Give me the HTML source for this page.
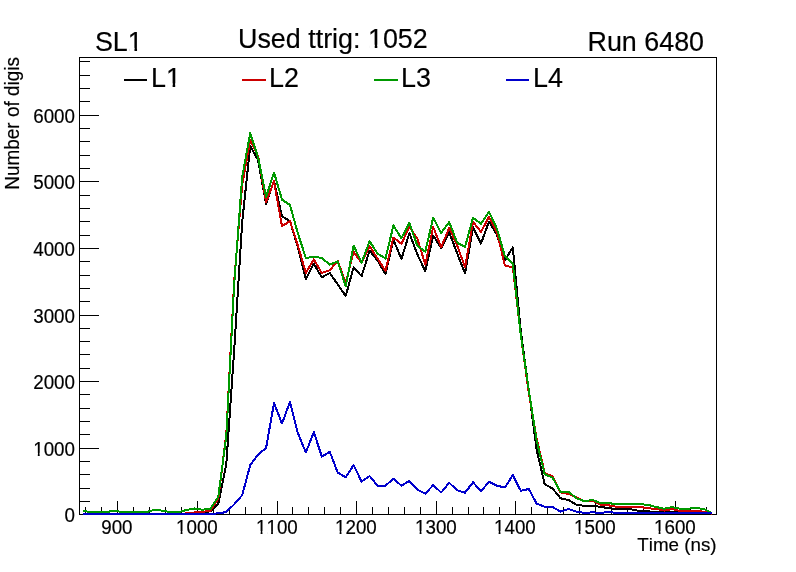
<!DOCTYPE html>
<html><head><meta charset="utf-8"><title>SL1</title>
<style>
html,body{margin:0;padding:0;background:#fff;}
body{width:796px;height:572px;overflow:hidden;font-family:"Liberation Sans",sans-serif;}
svg{display:block;position:absolute;left:0;top:0;will-change:transform;}
text{font-family:"Liberation Sans",sans-serif;fill:#000;font-kerning:none;stroke:#000;stroke-width:0.18px;}
</style></head><body>
<svg width="796" height="572" viewBox="0 0 796 572">
<rect x="0" y="0" width="796" height="572" fill="#ffffff"/>

<g stroke="#000" stroke-width="1" shape-rendering="crispEdges" fill="none">
<rect x="79.5" y="57.5" width="637" height="457"/>
<line x1="79.5" x2="99.0" y1="514.5" y2="514.5"/>
<line x1="79.5" x2="90.0" y1="501.5" y2="501.5"/>
<line x1="79.5" x2="90.0" y1="488.5" y2="488.5"/>
<line x1="79.5" x2="90.0" y1="474.5" y2="474.5"/>
<line x1="79.5" x2="90.0" y1="461.5" y2="461.5"/>
<line x1="79.5" x2="99.0" y1="448.5" y2="448.5"/>
<line x1="79.5" x2="90.0" y1="434.5" y2="434.5"/>
<line x1="79.5" x2="90.0" y1="421.5" y2="421.5"/>
<line x1="79.5" x2="90.0" y1="408.5" y2="408.5"/>
<line x1="79.5" x2="90.0" y1="394.5" y2="394.5"/>
<line x1="79.5" x2="99.0" y1="381.5" y2="381.5"/>
<line x1="79.5" x2="90.0" y1="368.5" y2="368.5"/>
<line x1="79.5" x2="90.0" y1="354.5" y2="354.5"/>
<line x1="79.5" x2="90.0" y1="341.5" y2="341.5"/>
<line x1="79.5" x2="90.0" y1="328.5" y2="328.5"/>
<line x1="79.5" x2="99.0" y1="315.5" y2="315.5"/>
<line x1="79.5" x2="90.0" y1="301.5" y2="301.5"/>
<line x1="79.5" x2="90.0" y1="288.5" y2="288.5"/>
<line x1="79.5" x2="90.0" y1="275.5" y2="275.5"/>
<line x1="79.5" x2="90.0" y1="261.5" y2="261.5"/>
<line x1="79.5" x2="99.0" y1="248.5" y2="248.5"/>
<line x1="79.5" x2="90.0" y1="235.5" y2="235.5"/>
<line x1="79.5" x2="90.0" y1="221.5" y2="221.5"/>
<line x1="79.5" x2="90.0" y1="208.5" y2="208.5"/>
<line x1="79.5" x2="90.0" y1="195.5" y2="195.5"/>
<line x1="79.5" x2="99.0" y1="181.5" y2="181.5"/>
<line x1="79.5" x2="90.0" y1="168.5" y2="168.5"/>
<line x1="79.5" x2="90.0" y1="155.5" y2="155.5"/>
<line x1="79.5" x2="90.0" y1="141.5" y2="141.5"/>
<line x1="79.5" x2="90.0" y1="128.5" y2="128.5"/>
<line x1="79.5" x2="99.0" y1="115.5" y2="115.5"/>
<line x1="79.5" x2="90.0" y1="101.5" y2="101.5"/>
<line x1="79.5" x2="90.0" y1="88.5" y2="88.5"/>
<line x1="79.5" x2="90.0" y1="75.5" y2="75.5"/>
<line x1="79.5" x2="90.0" y1="61.5" y2="61.5"/>
<line x1="85.5" x2="85.5" y1="514.5" y2="507.0"/>
<line x1="101.5" x2="101.5" y1="514.5" y2="507.0"/>
<line x1="117.5" x2="117.5" y1="514.5" y2="501.0"/>
<line x1="133.5" x2="133.5" y1="514.5" y2="507.0"/>
<line x1="149.5" x2="149.5" y1="514.5" y2="507.0"/>
<line x1="165.5" x2="165.5" y1="514.5" y2="507.0"/>
<line x1="181.5" x2="181.5" y1="514.5" y2="507.0"/>
<line x1="197.5" x2="197.5" y1="514.5" y2="501.0"/>
<line x1="213.5" x2="213.5" y1="514.5" y2="507.0"/>
<line x1="229.5" x2="229.5" y1="514.5" y2="507.0"/>
<line x1="245.5" x2="245.5" y1="514.5" y2="507.0"/>
<line x1="261.5" x2="261.5" y1="514.5" y2="507.0"/>
<line x1="277.5" x2="277.5" y1="514.5" y2="501.0"/>
<line x1="292.5" x2="292.5" y1="514.5" y2="507.0"/>
<line x1="308.5" x2="308.5" y1="514.5" y2="507.0"/>
<line x1="324.5" x2="324.5" y1="514.5" y2="507.0"/>
<line x1="340.5" x2="340.5" y1="514.5" y2="507.0"/>
<line x1="356.5" x2="356.5" y1="514.5" y2="501.0"/>
<line x1="372.5" x2="372.5" y1="514.5" y2="507.0"/>
<line x1="388.5" x2="388.5" y1="514.5" y2="507.0"/>
<line x1="404.5" x2="404.5" y1="514.5" y2="507.0"/>
<line x1="420.5" x2="420.5" y1="514.5" y2="507.0"/>
<line x1="436.5" x2="436.5" y1="514.5" y2="501.0"/>
<line x1="452.5" x2="452.5" y1="514.5" y2="507.0"/>
<line x1="468.5" x2="468.5" y1="514.5" y2="507.0"/>
<line x1="483.5" x2="483.5" y1="514.5" y2="507.0"/>
<line x1="499.5" x2="499.5" y1="514.5" y2="507.0"/>
<line x1="515.5" x2="515.5" y1="514.5" y2="501.0"/>
<line x1="531.5" x2="531.5" y1="514.5" y2="507.0"/>
<line x1="547.5" x2="547.5" y1="514.5" y2="507.0"/>
<line x1="563.5" x2="563.5" y1="514.5" y2="507.0"/>
<line x1="579.5" x2="579.5" y1="514.5" y2="507.0"/>
<line x1="595.5" x2="595.5" y1="514.5" y2="501.0"/>
<line x1="611.5" x2="611.5" y1="514.5" y2="507.0"/>
<line x1="627.5" x2="627.5" y1="514.5" y2="507.0"/>
<line x1="643.5" x2="643.5" y1="514.5" y2="507.0"/>
<line x1="659.5" x2="659.5" y1="514.5" y2="507.0"/>
<line x1="675.5" x2="675.5" y1="514.5" y2="501.0"/>
<line x1="690.5" x2="690.5" y1="514.5" y2="507.0"/>
<line x1="706.5" x2="706.5" y1="514.5" y2="507.0"/>
</g>
<clipPath id="c"><rect x="79" y="57" width="638" height="458"/></clipPath>
<g clip-path="url(#c)">
<polyline points="83.0,514.0 91.0,514.0 98.9,514.0 106.9,514.0 114.8,514.0 122.8,514.0 130.8,514.0 138.7,514.0 146.7,514.0 154.6,514.0 162.6,514.0 170.6,514.0 178.5,514.0 186.5,514.0 194.4,514.0 202.4,512.7 210.4,511.3 218.3,503.6 226.3,464.0 234.2,350.0 242.2,222.0 250.2,146.0 258.1,160.2 266.1,204.1 274.0,181.0 282.0,216.4 290.0,221.0 297.9,247.5 305.9,279.1 313.8,263.7 321.8,277.4 329.8,273.0 337.7,284.4 345.7,295.9 353.6,267.4 361.6,276.2 369.6,250.7 377.5,260.4 385.5,274.1 393.4,239.6 401.4,259.0 409.4,233.2 417.3,254.2 425.3,271.4 433.2,235.6 441.2,248.0 449.2,232.2 457.1,253.2 465.1,273.5 473.0,227.2 481.0,243.6 489.0,221.6 496.9,234.8 504.9,260.3 512.8,247.4 520.8,331.0 528.8,390.5 536.7,450.0 544.7,484.2 552.6,488.6 560.6,498.3 568.6,500.0 576.5,504.8 584.5,505.8 592.4,505.8 600.4,506.8 608.4,508.2 616.3,509.2 624.3,509.3 632.2,509.5 640.2,511.2 648.2,511.4 656.1,511.9 664.1,512.3 672.0,511.9 680.0,512.3 688.0,512.3 695.9,512.3 703.9,512.6 711.8,513.6" fill="none" stroke="#000000" stroke-width="2" stroke-linejoin="round" shape-rendering="crispEdges"/>
<polyline points="83.0,514.0 91.0,514.0 98.9,514.0 106.9,514.0 114.8,514.0 122.8,514.0 130.8,514.0 138.7,514.0 146.7,514.0 154.6,514.0 162.6,514.0 170.6,514.0 178.5,514.0 186.5,513.4 194.4,512.4 202.4,512.0 210.4,510.6 218.3,498.7 226.3,434.0 234.2,281.0 242.2,185.0 250.2,140.0 258.1,156.2 266.1,202.4 274.0,181.3 282.0,226.3 290.0,221.0 297.9,245.7 305.9,273.0 313.8,259.4 321.8,273.0 329.8,270.3 337.7,260.7 345.7,283.0 353.6,251.7 361.6,263.0 369.6,246.0 377.5,258.6 385.5,270.9 393.4,237.6 401.4,243.7 409.4,227.1 417.3,238.4 425.3,264.8 433.2,227.0 441.2,247.1 449.2,227.9 457.1,245.3 465.1,267.3 473.0,221.8 481.0,232.0 489.0,216.8 496.9,232.1 504.9,265.5 512.8,267.3 520.8,335.0 528.8,393.0 536.7,439.0 544.7,472.8 552.6,476.6 560.6,492.5 568.6,493.9 576.5,497.4 584.5,501.3 592.4,500.5 600.4,504.6 608.4,505.3 616.3,506.7 624.3,506.8 632.2,506.8 640.2,507.0 648.2,508.2 656.1,509.0 664.1,510.6 672.0,509.0 680.0,511.0 688.0,511.0 695.9,510.6 703.9,511.9 711.8,513.6" fill="none" stroke="#cc0000" stroke-width="2" stroke-linejoin="round" shape-rendering="crispEdges"/>
<polyline points="83.0,510.7 91.0,512.4 98.9,512.4 106.9,512.0 114.8,510.5 122.8,512.4 130.8,512.4 138.7,512.4 146.7,512.0 154.6,509.7 162.6,510.7 170.6,512.2 178.5,512.2 186.5,509.9 194.4,508.5 202.4,509.7 210.4,508.8 218.3,496.6 226.3,436.0 234.2,284.0 242.2,177.0 250.2,133.3 258.1,157.5 266.1,197.0 274.0,172.5 282.0,199.7 290.0,205.0 297.9,233.4 305.9,258.0 313.8,256.6 321.8,258.0 329.8,264.7 337.7,261.2 345.7,286.2 353.6,245.7 361.6,262.5 369.6,241.3 377.5,253.4 385.5,258.6 393.4,225.5 401.4,238.4 409.4,222.9 417.3,245.6 425.3,251.6 433.2,217.6 441.2,233.0 449.2,221.9 457.1,242.7 465.1,246.7 473.0,217.7 481.0,223.9 489.0,211.9 496.9,228.6 504.9,256.2 512.8,263.8 520.8,335.0 528.8,390.0 536.7,441.0 544.7,474.2 552.6,477.7 560.6,492.1 568.6,491.8 576.5,498.3 584.5,501.3 592.4,500.0 600.4,503.0 608.4,503.0 616.3,504.3 624.3,504.3 632.2,504.3 640.2,504.1 648.2,504.9 656.1,507.0 664.1,508.7 672.0,507.0 680.0,508.7 688.0,508.7 695.9,507.9 703.9,509.0 711.8,513.1" fill="none" stroke="#009900" stroke-width="2" stroke-linejoin="round" shape-rendering="crispEdges"/>
<polyline points="83.0,514.0 91.0,514.0 98.9,514.0 106.9,514.0 114.8,514.0 122.8,514.0 130.8,514.0 138.7,514.0 146.7,514.0 154.6,514.0 162.6,514.0 170.6,514.0 178.5,514.0 186.5,514.0 194.4,514.0 202.4,514.0 210.4,513.8 218.3,513.4 226.3,512.0 234.2,504.3 242.2,495.2 250.2,465.2 258.1,454.7 266.1,447.9 274.0,403.0 282.0,423.6 290.0,401.8 297.9,433.2 305.9,452.5 313.8,432.0 321.8,456.6 329.8,451.8 337.7,472.5 345.7,477.4 353.6,465.1 361.6,481.6 369.6,476.0 377.5,485.7 385.5,485.7 393.4,478.6 401.4,485.7 409.4,480.9 417.3,489.7 425.3,493.6 433.2,485.1 441.2,492.5 449.2,482.8 457.1,490.2 465.1,492.7 473.0,482.2 481.0,491.5 489.0,481.6 496.9,485.7 504.9,487.5 512.8,475.2 520.8,490.8 528.8,489.0 536.7,503.7 544.7,506.8 552.6,507.0 560.6,511.6 568.6,509.0 576.5,511.7 584.5,512.9 592.4,512.3 600.4,512.9 608.4,511.9 616.3,513.0 624.3,513.3 632.2,513.3 640.2,513.3 648.2,513.3 656.1,513.3 664.1,513.3 672.0,513.3 680.0,513.3 688.0,513.3 695.9,513.3 703.9,513.3 711.8,513.3" fill="none" stroke="#0000cc" stroke-width="2" stroke-linejoin="round" shape-rendering="crispEdges"/>
</g>
<g transform="translate(75.00,521.50) scale(1.000,1.070)"><text x="-10.46" y="0" font-size="18.8">0</text></g>
<g transform="translate(75.00,455.50) scale(1.000,1.070)"><text x="-41.82" y="0" font-size="18.8">1000</text><rect x="-40.99" y="-2.50" width="3.80" height="3.30" fill="#fff"/><rect x="-35.33" y="-2.50" width="3.65" height="3.30" fill="#fff"/></g>
<g transform="translate(75.00,388.50) scale(1.000,1.070)"><text x="-41.82" y="0" font-size="18.8">2000</text></g>
<g transform="translate(75.00,322.50) scale(1.000,1.070)"><text x="-41.82" y="0" font-size="18.8">3000</text></g>
<g transform="translate(75.00,255.50) scale(1.000,1.070)"><text x="-41.82" y="0" font-size="18.8">4000</text></g>
<g transform="translate(75.00,188.50) scale(1.000,1.070)"><text x="-41.82" y="0" font-size="18.8">5000</text></g>
<g transform="translate(75.00,122.50) scale(1.000,1.070)"><text x="-41.82" y="0" font-size="18.8">6000</text></g>
<g transform="translate(116.90,533.60) scale(1.000,1.070)"><text x="-15.68" y="0" font-size="18.8">900</text></g>
<g transform="translate(196.90,533.60) scale(1.000,1.070)"><text x="-20.91" y="0" font-size="18.8">1000</text><rect x="-20.08" y="-2.50" width="3.80" height="3.30" fill="#fff"/><rect x="-14.42" y="-2.50" width="3.65" height="3.30" fill="#fff"/></g>
<g transform="translate(276.90,533.60) scale(1.000,1.070)"><text x="-20.91" y="0" font-size="18.8">1100</text><rect x="-20.08" y="-2.50" width="3.80" height="3.30" fill="#fff"/><rect x="-14.42" y="-2.50" width="3.65" height="3.30" fill="#fff"/><rect x="-9.62" y="-2.50" width="3.80" height="3.30" fill="#fff"/><rect x="-3.97" y="-2.50" width="3.65" height="3.30" fill="#fff"/></g>
<g transform="translate(355.90,533.60) scale(1.000,1.070)"><text x="-20.91" y="0" font-size="18.8">1200</text><rect x="-20.08" y="-2.50" width="3.80" height="3.30" fill="#fff"/><rect x="-14.42" y="-2.50" width="3.65" height="3.30" fill="#fff"/></g>
<g transform="translate(435.90,533.60) scale(1.000,1.070)"><text x="-20.91" y="0" font-size="18.8">1300</text><rect x="-20.08" y="-2.50" width="3.80" height="3.30" fill="#fff"/><rect x="-14.42" y="-2.50" width="3.65" height="3.30" fill="#fff"/></g>
<g transform="translate(514.90,533.60) scale(1.000,1.070)"><text x="-20.91" y="0" font-size="18.8">1400</text><rect x="-20.08" y="-2.50" width="3.80" height="3.30" fill="#fff"/><rect x="-14.42" y="-2.50" width="3.65" height="3.30" fill="#fff"/></g>
<g transform="translate(594.90,533.60) scale(1.000,1.070)"><text x="-20.91" y="0" font-size="18.8">1500</text><rect x="-20.08" y="-2.50" width="3.80" height="3.30" fill="#fff"/><rect x="-14.42" y="-2.50" width="3.65" height="3.30" fill="#fff"/></g>
<g transform="translate(674.90,533.60) scale(1.000,1.070)"><text x="-20.91" y="0" font-size="18.8">1600</text><rect x="-20.08" y="-2.50" width="3.80" height="3.30" fill="#fff"/><rect x="-14.42" y="-2.50" width="3.65" height="3.30" fill="#fff"/></g>
<g transform="translate(94.90,51.20) scale(1.000,1.055)"><text x="0.00" y="0" font-size="26.9">SL1</text><rect x="34.35" y="-3.11" width="5.22" height="3.91" fill="#fff"/><rect x="42.14" y="-3.11" width="5.01" height="3.91" fill="#fff"/></g>
<g transform="translate(238.00,48.00) scale(1.000,1.055)"><text x="0.00" y="0" font-size="26.9">Used ttrig: 1052</text><rect x="131.51" y="-3.11" width="5.22" height="3.91" fill="#fff"/><rect x="139.30" y="-3.11" width="5.01" height="3.91" fill="#fff"/></g>
<g transform="translate(587.50,51.30) scale(1.000,1.055)"><text x="0.00" y="0" font-size="26.9">Run 6480</text></g>
<g transform="translate(716.60,551.00) scale(1.000,0.980)"><text x="-79.38" y="0" font-size="18.8">Time (ns)</text></g>
<g transform="translate(19.40,57.00) rotate(-90) scale(1.000,1.030)"><text x="-132.71" y="0" font-size="18.95">Number of digis</text></g>
<g stroke-width="2" shape-rendering="crispEdges">
<line x1="124" x2="147" y1="80" y2="80" stroke="#000000"/>
<line x1="242" x2="266" y1="80" y2="80" stroke="#cc0000"/>
<line x1="374" x2="398" y1="80" y2="80" stroke="#009900"/>
<line x1="506" x2="529" y1="80" y2="80" stroke="#0000cc"/>
</g>
<g transform="translate(151.00,86.60) scale(1.000,1.055)"><text x="0.00" y="0" font-size="26.9">L1</text><rect x="16.41" y="-3.11" width="5.22" height="3.91" fill="#fff"/><rect x="24.20" y="-3.11" width="5.01" height="3.91" fill="#fff"/></g>
<g transform="translate(269.00,86.60) scale(1.000,1.055)"><text x="0.00" y="0" font-size="26.9">L2</text></g>
<g transform="translate(401.00,86.60) scale(1.000,1.055)"><text x="0.00" y="0" font-size="26.9">L3</text></g>
<g transform="translate(533.00,86.60) scale(1.000,1.055)"><text x="0.00" y="0" font-size="26.9">L4</text></g>
</svg>
</body></html>
